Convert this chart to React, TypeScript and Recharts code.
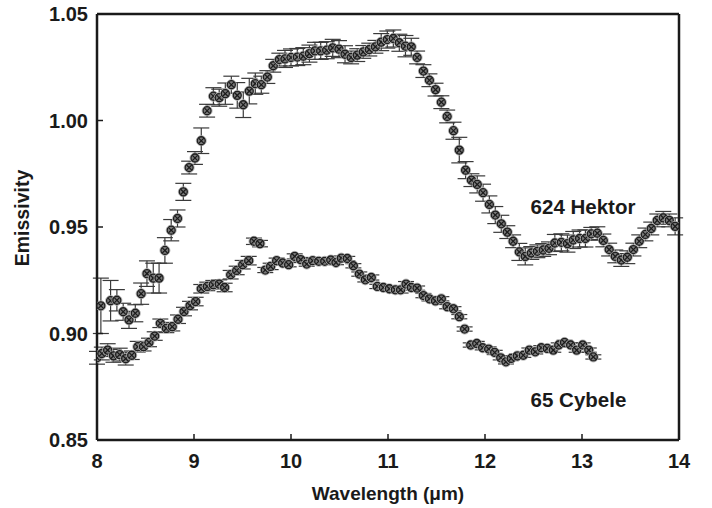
import React from 'react';
import {
  ScatterChart,
  Scatter,
  XAxis,
  YAxis,
  ErrorBar,
  ReferenceDot,
} from 'recharts';

// Wavelength grid (µm) and emissivity for 624 Hektor
const hektorWavelength = [
  8.04, 8.14, 8.205, 8.27, 8.33, 8.395, 8.455, 8.515, 8.58, 8.64, 8.7, 8.765, 8.83, 8.89, 8.95, 9.01,
  9.075, 9.135, 9.2, 9.26, 9.323, 9.385, 9.446, 9.508, 9.57, 9.632, 9.694, 9.756, 9.817, 9.88, 9.938,
  10.0, 10.065, 10.127, 10.19, 10.247, 10.306, 10.368, 10.43, 10.495, 10.557, 10.62, 10.683, 10.745,
  10.807, 10.87, 10.93, 10.993, 11.055, 11.117, 11.18, 11.24, 11.3, 11.365, 11.427, 11.49, 11.55, 11.61,
  11.675, 11.735, 11.8, 11.86, 11.92, 11.98, 12.045, 12.106, 12.168, 12.23, 12.29, 12.354, 12.415,
  12.477, 12.54, 12.6, 12.66, 12.72, 12.787, 12.85, 12.91, 12.975, 13.035, 13.096, 13.158, 13.22,
  13.28, 13.343, 13.405, 13.467, 13.53, 13.59, 13.653, 13.714, 13.776, 13.838, 13.9, 13.96,
];
const hektorEmissivity = [
  0.913, 0.9154, 0.9156, 0.9102, 0.9064, 0.9095, 0.9187, 0.9281, 0.926, 0.926, 0.939, 0.9485, 0.954,
  0.9665, 0.9779, 0.9824, 0.9905, 1.0046, 1.0114, 1.0107, 1.0126, 1.0168, 1.0118, 1.0074, 1.0138,
  1.0173, 1.0168, 1.0204, 1.0257, 1.0286, 1.0289, 1.0296, 1.0298, 1.0302, 1.0314, 1.0327, 1.0327,
  1.033, 1.0341, 1.0335, 1.0311, 1.0296, 1.0307, 1.0322, 1.0333, 1.0346, 1.0368, 1.038, 1.0385,
  1.0365, 1.0349, 1.0346, 1.0296, 1.0232, 1.0189, 1.0145, 1.0086, 1.0019, 0.9952, 0.9861, 0.9767,
  0.972, 0.97, 0.9661, 0.9606, 0.9556, 0.9515, 0.9476, 0.9433, 0.9383, 0.9362, 0.9378, 0.9386, 0.9392,
  0.94, 0.9425, 0.9428, 0.9422, 0.9439, 0.9446, 0.9446, 0.9468, 0.9471, 0.9437, 0.9394, 0.9362,
  0.9345, 0.9358, 0.9394, 0.9433, 0.9465, 0.9493, 0.9531, 0.9543, 0.9531, 0.9503,
];
const hektorError = [
  0.013, 0.0095, 0.005, 0.004, 0.004, 0.004, 0.005, 0.006, 0.007, 0.007, 0.006, 0.005, 0.004, 0.004,
  0.003, 0.003, 0.006, 0.003, 0.004, 0.004, 0.005, 0.004, 0.006, 0.006, 0.006, 0.005, 0.004, 0.003,
  0.003, 0.003, 0.004, 0.004, 0.004, 0.004, 0.004, 0.004, 0.004, 0.004, 0.004, 0.004, 0.004, 0.003,
  0.003, 0.003, 0.003, 0.003, 0.004, 0.004, 0.004, 0.004, 0.005, 0.004, 0.003, 0.003, 0.003, 0.003,
  0.003, 0.003, 0.004, 0.006, 0.004, 0.003, 0.004, 0.004, 0.004, 0.004, 0.004, 0.003, 0.003, 0.004,
  0.004, 0.003, 0.003, 0.003, 0.003, 0.004, 0.004, 0.004, 0.004, 0.004, 0.004, 0.003, 0.003, 0.003,
  0.003, 0.003, 0.003, 0.003, 0.003, 0.003, 0.003, 0.003, 0.003, 0.003, 0.003, 0.004,
];

// Wavelength grid (µm) and emissivity for 65 Cybele
const cybeleWavelength = [
  8.0, 8.05, 8.11, 8.17, 8.234, 8.296, 8.358, 8.42, 8.48, 8.536, 8.595, 8.653, 8.715, 8.776, 8.835,
  8.897, 8.959, 9.017, 9.075, 9.137, 9.199, 9.26, 9.316, 9.378, 9.44, 9.502, 9.564, 9.618, 9.68,
  9.735, 9.79, 9.852, 9.914, 9.976, 10.038, 10.1, 10.162, 10.224, 10.286, 10.348, 10.41, 10.464,
  10.519, 10.58, 10.643, 10.704, 10.766, 10.828, 10.89, 10.952, 11.014, 11.076, 11.13, 11.186, 11.24,
  11.3, 11.365, 11.427, 11.49, 11.55, 11.61, 11.675, 11.735, 11.79, 11.853, 11.915, 11.976, 12.038,
  12.1, 12.162, 12.216, 12.27, 12.333, 12.395, 12.457, 12.518, 12.58, 12.642, 12.704, 12.76, 12.82,
  12.883, 12.945, 13.007, 13.07, 13.117,
];
const cybeleEmissivity = [
  0.8886, 0.8906, 0.8922, 0.8895, 0.8901, 0.8882, 0.8898, 0.8938, 0.8938, 0.8958, 0.8988, 0.9048,
  0.9024, 0.9032, 0.9067, 0.9103, 0.9131, 0.915, 0.921, 0.9221, 0.9229, 0.9232, 0.9216, 0.9276,
  0.9296, 0.9323, 0.9342, 0.9433, 0.9422, 0.9298, 0.9315, 0.9342, 0.9331, 0.9323, 0.9362, 0.9347,
  0.9326, 0.9342, 0.9339, 0.9339, 0.9345, 0.9333, 0.9354, 0.9352, 0.9318, 0.9279, 0.9252, 0.9263,
  0.9221, 0.9216, 0.921, 0.9205, 0.9205, 0.9232, 0.9216, 0.9213, 0.9178, 0.9163, 0.9153, 0.9163,
  0.9126, 0.9116, 0.9079, 0.9021, 0.8946, 0.8953, 0.8933, 0.8927, 0.8911, 0.8886, 0.8867, 0.8883,
  0.8895, 0.8898, 0.8922, 0.8914, 0.8933, 0.893, 0.8922, 0.8946, 0.8958, 0.8946, 0.8922, 0.8946,
  0.8922, 0.889,
];
const cybeleError = [
  0.003, 0.003, 0.003, 0.003, 0.003, 0.003, 0.002, 0.0025, 0.002, 0.002, 0.002, 0.002, 0.002, 0.002,
  0.002, 0.002, 0.002, 0.002, 0.002, 0.002, 0.002, 0.002, 0.002, 0.002, 0.002, 0.002, 0.002, 0.0015,
  0.0015, 0.0012, 0.0015, 0.0012, 0.001, 0.001, 0.0012, 0.001, 0.001, 0.001, 0.001, 0.001, 0.001,
  0.001, 0.001, 0.001, 0.001, 0.001, 0.001, 0.0012, 0.001, 0.0012, 0.0012, 0.0015, 0.0015, 0.0012,
  0.0012, 0.001, 0.001, 0.001, 0.001, 0.001, 0.001, 0.001, 0.001, 0.001, 0.001, 0.001, 0.001, 0.001,
  0.001, 0.001, 0.001, 0.001, 0.001, 0.001, 0.001, 0.001, 0.001, 0.001, 0.001, 0.001, 0.001, 0.001,
  0.001, 0.001, 0.001, 0.001,
];

const wavelengthTicks = [8, 9, 10, 11, 12, 13, 14];
const emissivityTicks = [0.85, 0.9, 0.95, 1.0, 1.05];

const hektorData = hektorWavelength.map((x, i) => ({
  x,
  y: hektorEmissivity[i],
  err: hektorError[i],
}));
const cybeleData = cybeleWavelength.map((x, i) => ({
  x,
  y: cybeleEmissivity[i],
  err: cybeleError[i],
}));

const FONT = '"Liberation Sans", Arial, Helvetica, sans-serif';
const INK = '#1a1a1a';

// Crossed-circle plot symbol
const CrossedCircle = (props: any) => {
  const { cx, cy } = props;
  if (cx == null || cy == null) return <g />;
  const d = 2.6;
  return (
    <g>
      <circle cx={cx} cy={cy} r={5} fill="none" stroke="#b0b0b0" strokeWidth={1} />
      <circle cx={cx} cy={cy} r={4} fill="#7a7a7a" stroke="#1e1e1e" strokeWidth={1.3} />
      <line x1={cx - d} y1={cy - d} x2={cx + d} y2={cy + d} stroke="#1a1a1a" strokeWidth={1.2} />
      <line x1={cx - d} y1={cy + d} x2={cx + d} y2={cy - d} stroke="#1a1a1a" strokeWidth={1.2} />
    </g>
  );
};

const SeriesLabel = (text: string) => (props: any) => (
  <text
    x={props.cx}
    y={props.cy}
    fontFamily={FONT}
    fontWeight="bold"
    fontSize={20.5}
    fill={INK}
  >
    {text}
  </text>
);

const axisLine = { stroke: INK, strokeWidth: 2.5 };
const tickLine = { stroke: INK, strokeWidth: 1.5 };
const tickStyle = { fontFamily: FONT, fontWeight: 'bold', fontSize: 20, fill: INK };

export default function App() {
  return (
    <div style={{ position: 'absolute', left: 0, top: 0, background: '#fff' }}>
      <ScatterChart
        width={712}
        height={508}
        margin={{ top: 0, right: 0, bottom: 0, left: 0 }}
      >
        <XAxis
          xAxisId="bottom"
          dataKey="x"
          type="number"
          domain={[8, 14]}
          ticks={wavelengthTicks}
          allowDataOverflow
          orientation="bottom"
          height={68}
          axisLine={axisLine}
          tickLine={tickLine}
          tickSize={-6}
          tickMargin={20}
          tick={tickStyle}
          interval={0}
          label={{
            content: () => (
              <text
                x={388}
                y={500}
                textAnchor="middle"
                fontFamily={FONT}
                fontWeight="bold"
                fontSize={19}
                fill={INK}
              >
                Wavelength (μm)
              </text>
            ),
          }}
        />
        <XAxis
          xAxisId="top"
          type="number"
          domain={[8, 14]}
          ticks={wavelengthTicks}
          orientation="top"
          height={14}
          axisLine={axisLine}
          tickLine={tickLine}
          tickSize={-6}
          tick={false}
        />
        <YAxis
          yAxisId="left"
          dataKey="y"
          type="number"
          domain={[0.85, 1.05]}
          ticks={emissivityTicks}
          allowDataOverflow
          orientation="left"
          width={97}
          axisLine={axisLine}
          tickLine={tickLine}
          tickSize={-6}
          tickMargin={15}
          tick={tickStyle}
          interval={0}
          tickFormatter={(v: number) => v.toFixed(2)}
          label={{
            content: () => (
              <text
                x={22}
                y={218}
                transform="rotate(-90 22 218)"
                textAnchor="middle"
                dominantBaseline="central"
                fontFamily={FONT}
                fontWeight="bold"
                fontSize={19.5}
                fill={INK}
              >
                Emissivity
              </text>
            ),
          }}
        />
        <YAxis
          yAxisId="right"
          type="number"
          domain={[0.85, 1.05]}
          ticks={emissivityTicks}
          orientation="right"
          width={33}
          axisLine={axisLine}
          tickLine={tickLine}
          tickSize={-6}
          tick={false}
        />
        <Scatter
          name="624 Hektor"
          data={hektorData}
          xAxisId="bottom"
          yAxisId="left"
          shape={CrossedCircle}
          isAnimationActive={false}
        >
          <ErrorBar dataKey="err" direction="y" width={8} stroke="#3a3a3a" strokeWidth={1.2} />
        </Scatter>
        <Scatter
          name="65 Cybele"
          data={cybeleData}
          xAxisId="bottom"
          yAxisId="left"
          shape={CrossedCircle}
          isAnimationActive={false}
        >
          <ErrorBar dataKey="err" direction="y" width={8} stroke="#3a3a3a" strokeWidth={1.2} />
        </Scatter>
        <ReferenceDot
          xAxisId="bottom"
          yAxisId="left"
          x={12.47}
          y={0.956}
          r={0}
          shape={SeriesLabel('624 Hektor')}
        />
        <ReferenceDot
          xAxisId="bottom"
          yAxisId="left"
          x={12.47}
          y={0.8655}
          r={0}
          shape={SeriesLabel('65 Cybele')}
        />
      </ScatterChart>
    </div>
  );
}
